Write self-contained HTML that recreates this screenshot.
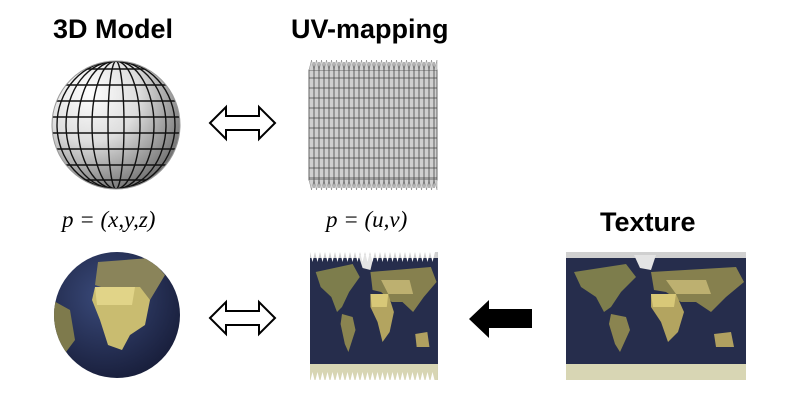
<!DOCTYPE html>
<html><head><meta charset="utf-8"><style>
html,body{margin:0;padding:0;background:#fff;}
svg{display:block}
.h{font-family:"Liberation Sans",sans-serif;font-weight:bold;font-size:27px;fill:#000}
.m{font-family:"Liberation Serif",serif;font-style:italic;font-size:23px;fill:#000}
</style></head><body>
<svg width="800" height="420" viewBox="0 0 800 420" xmlns="http://www.w3.org/2000/svg">
<defs>
<radialGradient id="sg" cx="0.3" cy="0.25" r="0.85">
<stop offset="0" stop-color="#fff"/><stop offset="0.45" stop-color="#ddd"/><stop offset="1" stop-color="#666"/></radialGradient>
<radialGradient id="gg" cx="0.4" cy="0.35" r="0.75">
<stop offset="0" stop-color="#3a4a7a"/><stop offset="1" stop-color="#151a35"/></radialGradient>
<clipPath id="c1"><circle cx="116" cy="125" r="64"/></clipPath>
<clipPath id="c2"><circle cx="117" cy="315" r="63"/></clipPath>
<g id="map">
<rect x="0" y="0" width="180" height="128" fill="#262d4c"/>
<rect x="0" y="0" width="180" height="6" fill="#d0d0d0"/>
<polygon points="68,3 90,3 85,18 74,16" fill="#e4e4e4"/>
<polygon points="8,20 60,12 70,25 55,40 45,55 38,60 30,45 15,35" fill="#7d7d4c"/>
<polygon points="45,62 60,65 64,78 54,100 49,92 43,72" fill="#8a8450"/>
<polygon points="85,20 170,15 178,30 160,45 145,60 130,50 115,50 100,40 88,38" fill="#86804e"/>
<polygon points="100,28 140,28 145,42 110,42" fill="#bdb070"/>
<polygon points="85,42 110,42 118,60 112,80 102,90 95,70 85,55" fill="#b3a460"/>
<polygon points="85,42 110,42 108,55 87,55" fill="#d8c878"/>
<polygon points="148,82 165,80 168,95 150,95" fill="#b0a060"/>
<rect x="0" y="112" width="180" height="16" fill="#d8d6b4"/>
</g>
</defs>

<text class="h" x="53" y="38">3D Model</text>
<text class="h" x="291" y="38">UV-mapping</text>
<text class="h" x="600" y="231">Texture</text>
<text class="m" x="62" y="227">p = (x,y,z)</text>
<text class="m" x="326" y="227">p = (u,v)</text>

<!-- wire sphere -->
<circle cx="116" cy="125" r="64" fill="url(#sg)"/>
<g clip-path="url(#c1)" stroke="#111" stroke-width="1.4" fill="none">
<ellipse cx="116" cy="125" rx="8" ry="64"/><ellipse cx="116" cy="125" rx="24" ry="64"/>
<ellipse cx="116" cy="125" rx="38" ry="64"/><ellipse cx="116" cy="125" rx="50" ry="64"/>
<ellipse cx="116" cy="125" rx="59" ry="64"/>
<line x1="50" y1="69" x2="182" y2="69"/><line x1="50" y1="85" x2="182" y2="85"/>
<line x1="50" y1="101" x2="182" y2="101"/><line x1="50" y1="117" x2="182" y2="117"/>
<line x1="50" y1="133" x2="182" y2="133"/><line x1="50" y1="149" x2="182" y2="149"/>
<line x1="50" y1="165" x2="182" y2="165"/><line x1="50" y1="180" x2="182" y2="180"/>
</g>
<circle cx="116" cy="125" r="64" fill="none" stroke="#999" stroke-width="1"/>

<!-- UV grid -->
<g>
<rect x="309" y="70" width="128" height="110" fill="#d0d0d0" stroke="#666"/>
<path id="sp" d="M309,70 l2.5,-10 l2.5,10 l2.5,-10 l2.5,10 l2.5,-10 l2.5,10 l2.5,-10 l2.5,10 l2.5,-10 l2.5,10 l2.5,-10 l2.5,10 l2.5,-10 l2.5,10 l2.5,-10 l2.5,10 l2.5,-10 l2.5,10 l2.5,-10 l2.5,10 l2.5,-10 l2.5,10 l2.5,-10 l2.5,10 l2.5,-10 l2.5,10 l2.5,-10 l2.5,10 l2.5,-10 l2.5,10 l2.5,-10 l2.5,10 l2.5,-10 l2.5,10 l2.5,-10 l2.5,10 l2.5,-10 l2.5,10 l2.5,-10 l2.5,10 l2.5,-10 l2.5,10 l2.5,-10 l2.5,10 l2.5,-10 l2.5,10 l2.5,-10 l2.5,10 l2.5,-10 l2.5,10 l3,-10 l0,10" fill="#d0d0d0" stroke="#888" stroke-width="0.5"/>
<use href="#sp" transform="translate(0,250) scale(1,-1)"/>
<g stroke="#444" stroke-width="0.8">
<path d="M314,62V188M319,62V188M324,62V188M329,62V188M334,62V188M339,62V188M344,62V188M349,62V188M354,62V188M359,62V188M364,62V188M369,62V188M374,62V188M379,62V188M384,62V188M389,62V188M394,62V188M399,62V188M404,62V188M409,62V188M414,62V188M419,62V188M424,62V188M429,62V188M434,62V188"/>
<path d="M309,78H437M309,88H437M309,98H437M309,108H437M309,118H437M309,128H437M309,138H437M309,148H437M309,158H437M309,168H437M309,178H437"/>
</g>
</g>

<!-- double arrows -->
<g fill="#fff" stroke="#000" stroke-width="2" stroke-linejoin="miter">
<path d="M210,123 L226,107 L226,116 L259,116 L259,107 L275,123 L259,139 L259,130 L226,130 L226,139 Z"/>
<path d="M210,318 L226,302 L226,311 L259,311 L259,302 L275,318 L259,334 L259,325 L226,325 L226,334 Z"/>
</g>
<!-- black arrow -->
<path d="M469,319 L489,300 L489,309 L532,309 L532,328 L489,328 L489,338 Z" fill="#000"/>

<!-- globe -->
<circle cx="117" cy="315" r="63" fill="url(#gg)"/>
<g clip-path="url(#c2)">
<polygon points="98,262 150,258 165,275 150,300 130,292 110,290 95,285" fill="#8a845a"/>
<polygon points="95,287 140,287 150,300 145,325 130,335 122,350 108,345 100,320 92,300" fill="#c9bc70"/>
<polygon points="95,287 135,287 132,305 97,305" fill="#e1d488"/>
<polygon points="52,300 70,310 75,340 60,360 52,350" fill="#7e7a4c"/>
</g>

<!-- UV map -->
<g transform="translate(310,252)">
<g transform="scale(0.711,1.0)"><use href="#map"/></g>
<path d="M0,0 l2.5,10 l2.5,-10 l2.5,10 l2.5,-10 l2.5,10 l2.5,-10 l2.5,10 l2.5,-10 l2.5,10 l2.5,-10 l2.5,10 l2.5,-10 l2.5,10 l2.5,-10 l2.5,10 l2.5,-10 l2.5,10 l2.5,-10 l2.5,10 l2.5,-10 l2.5,10 l2.5,-10 l2.5,10 l2.5,-10 l2.5,10 l2.5,-10 l2.5,10 l2.5,-10 l2.5,10 l2.5,-10 l2.5,10 l2.5,-10 l2.5,10 l2.5,-10 l2.5,10 l2.5,-10 l2.5,10 l2.5,-10 l2.5,10 l2.5,-10 l2.5,10 l2.5,-10 l2.5,10 l2.5,-10 l2.5,10 l2.5,-10 l2.5,10 l2.5,-10 l2.5,10 l2.5,-10 l0,0 Z" fill="#fff"/>
<path d="M0,130 l2.5,-10 l2.5,10 l2.5,-10 l2.5,10 l2.5,-10 l2.5,10 l2.5,-10 l2.5,10 l2.5,-10 l2.5,10 l2.5,-10 l2.5,10 l2.5,-10 l2.5,10 l2.5,-10 l2.5,10 l2.5,-10 l2.5,10 l2.5,-10 l2.5,10 l2.5,-10 l2.5,10 l2.5,-10 l2.5,10 l2.5,-10 l2.5,10 l2.5,-10 l2.5,10 l2.5,-10 l2.5,10 l2.5,-10 l2.5,10 l2.5,-10 l2.5,10 l2.5,-10 l2.5,10 l2.5,-10 l2.5,10 l2.5,-10 l2.5,10 l2.5,-10 l2.5,10 l2.5,-10 l2.5,10 l2.5,-10 l2.5,10 l2.5,-10 l2.5,10 l2.5,-10 l2.5,10 l0,0 Z" fill="#fff"/>
</g>

<!-- texture -->
<g transform="translate(566,252)"><use href="#map"/></g>
</svg>
</body></html>
